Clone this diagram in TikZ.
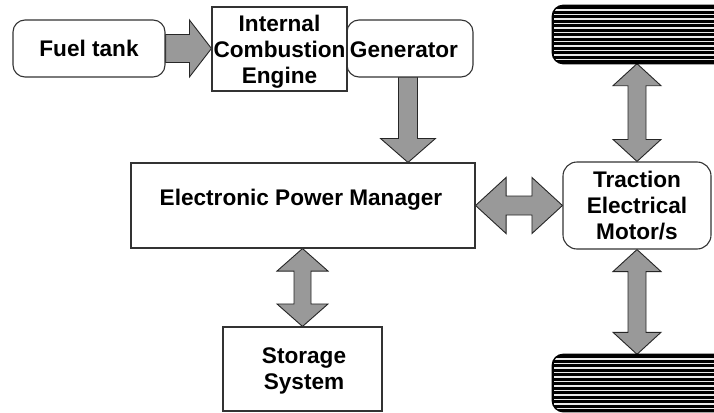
\documentclass[tikz,border=0pt]{standalone}
\usepackage{fontspec}
\setmainfont{Liberation Sans}
\usetikzlibrary{calc}
\pgfdeclarelayer{background}
\pgfsetlayers{background,main}

\tikzset{
  txt/.style={font=\bfseries\fontsize{22.6}{25.8}\selectfont, align=center, inner sep=0pt},
  box/.style={txt, draw=black!80, line width=1.1pt, fill=white},
  rbox/.style={box, rounded corners=12pt},
  blk/.style={draw=black!85, line width=0.9pt, fill=black!40, line join=miter},
  tyre/.style={draw=black, line width=1.4pt, fill=black, rounded corners=11pt, inner sep=0pt},
  stripe/.style={draw=black!8, line width=1.5pt},
}

% single-headed vertical block arrow: #1 tail, #2 tip, #3 shaft half width, #4 head half width, #5 head length
\newcommand\blockArrowV[5]{%
  \draw[blk] ($(#1)+(-#3,0)$) -- ($(#1)+(#3,0)$) -- ($(#2)+(#3,-#5)$) -- ($(#2)+(#4,-#5)$)
    -- (#2) -- ($(#2)+(-#4,-#5)$) -- ($(#2)+(-#3,-#5)$) -- cycle;}
% single-headed horizontal block arrow: #1 tail, #2 tip
\newcommand\blockArrowH[5]{%
  \draw[blk] ($(#1)+(0,-#3)$) -- ($(#2)+(-#5,-#3)$) -- ($(#2)+(-#5,-#4)$)
    -- (#2) -- ($(#2)+(-#5,#4)$) -- ($(#2)+(-#5,#3)$) -- ($(#1)+(0,#3)$) -- cycle;}
% double-headed vertical block arrow: #1 upper tip, #2 lower tip
\newcommand\twinArrowV[5]{%
  \draw[blk] (#1) -- ($(#1)+(#4,#5)$) -- ($(#1)+(#3,#5)$) -- ($(#2)+(#3,-#5)$) -- ($(#2)+(#4,-#5)$)
    -- (#2) -- ($(#2)+(-#4,-#5)$) -- ($(#2)+(-#3,-#5)$) -- ($(#1)+(-#3,#5)$) -- ($(#1)+(-#4,#5)$) -- cycle;}
% double-headed horizontal block arrow: #1 left tip, #2 right tip
\newcommand\twinArrowH[5]{%
  \draw[blk] (#1) -- ($(#1)+(#5,-#4)$) -- ($(#1)+(#5,-#3)$) -- ($(#2)+(-#5,-#3)$) -- ($(#2)+(-#5,-#4)$)
    -- (#2) -- ($(#2)+(-#5,#4)$) -- ($(#2)+(-#5,#3)$) -- ($(#1)+(#5,#3)$) -- ($(#1)+(#5,#4)$) -- cycle;}

\begin{document}
\begin{tikzpicture}[x=1pt, y=-1pt]
  \useasboundingbox (0,0) rectangle (714,412);

  % blocks
  \node[rbox, minimum width=152pt, minimum height=57pt] (fuel) at (89,48.5) {Fuel tank};
  \node[rbox, minimum width=126pt, minimum height=57pt] (gen) at (410,48.5) {};
  \node[txt] (gentext) at (404,49.5) {Generator};
  \node[box, minimum width=135pt, minimum height=84pt] (ice) at (279.5,49) {};
  \node[txt] (icetext) at (279.5,51.5) {Internal\\Combustion\\Engine};
  \node[box, minimum width=344pt, minimum height=85pt] (epm) at (303,205.5) {};
  \node[txt] (epmtext) at (301,200) {Electronic Power Manager};
  \node[rbox, rounded corners=14pt, minimum width=148pt, minimum height=87pt] (motor) at (637,205.5)
    {Traction\\Electrical\\Motor/s};
  \node[box, minimum width=159pt, minimum height=84pt] (store) at (302.5,369) {};
  \node[txt] (storetext) at (304,371) {Storage\\System};

  % wheels
  \node[tyre, minimum width=187pt, minimum height=57pt] (wtop) at (646.5,34.5) {};
  \node[tyre, minimum width=187pt, minimum height=56pt] (wbot) at (646.5,383) {};
  \foreach \w in {wtop,wbot} {
    \begin{scope}
      \clip[rounded corners=11pt] (\w.south west) rectangle (\w.north east);
      \foreach \k in {1,...,12}
        \draw[stripe] ($(\w.north west)+(2,4.5*\k)$) -- ($(\w.north east)+(0,4.5*\k)$);
    \end{scope}
    \draw[line width=1.4pt, rounded corners=11pt] (\w.south west) rectangle (\w.north east);
  }

  % connection points
  \coordinate (iceIn) at (ice.west |- fuel.east);
  \coordinate (genOut) at (408,77);
  \coordinate (epmIn) at (genOut |- epm.north);
  \coordinate (epmLow) at (epm.south -| store.north);
  \coordinate (wtopLow) at (wtop.south -| motor.north);
  \coordinate (wbotUp) at (wbot.north -| motor.south);

  \begin{pgfonlayer}{background}
    \fill[white] (0,0) rectangle (714,412);
    \blockArrowH{fuel.east}{iceIn}{14}{28.5}{22}
    \blockArrowV{genOut}{epmIn}{9.5}{27.5}{24}
    \twinArrowH{epm.east}{motor.west}{9.5}{28}{30.5}
    \twinArrowV{epmLow}{store.north}{8.5}{25.5}{22.5}
    \twinArrowV{wtopLow}{motor.north}{9}{24}{22}
    \twinArrowV{motor.south}{wbotUp}{9}{24}{22}
  \end{pgfonlayer}
\end{tikzpicture}
\end{document}
